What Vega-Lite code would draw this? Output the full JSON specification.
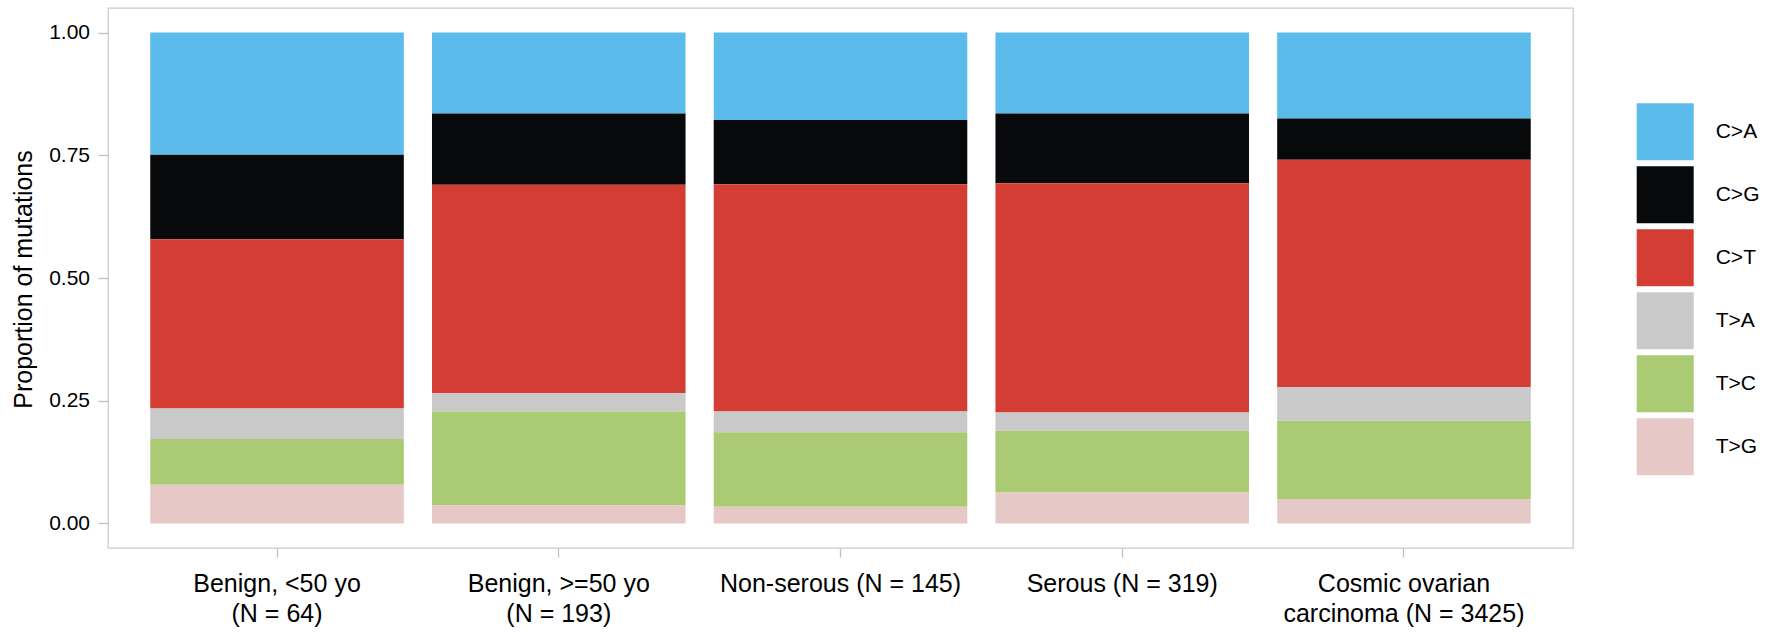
{
  "$schema": "https://vega.github.io/schema/vega-lite/v6.json",
  "autosize": "none",
  "width": 1465,
  "height": 540,
  "padding": {"left": 108, "top": 8, "right": 212, "bottom": 84},
  "background": "white",
  "config": {
    "font": "Liberation Sans, Arial, sans-serif",
    "view": {"stroke": "#cccccc", "strokeWidth": 1.3},
    "axis": {"grid": false, "domain": false, "tickColor": "#bfbfbf", "tickWidth": 1.3, "labelColor": "#000000", "titleColor": "#000000", "labelFont": "Liberation Sans, Arial, sans-serif", "titleFont": "Liberation Sans, Arial, sans-serif"}
  },
  "data": {
    "values": [
      {"group": "Benign, <50 yo\n(N = 64)", "type": "C>A", "proportion": 0.249},
      {"group": "Benign, <50 yo\n(N = 64)", "type": "C>G", "proportion": 0.172},
      {"group": "Benign, <50 yo\n(N = 64)", "type": "C>T", "proportion": 0.345},
      {"group": "Benign, <50 yo\n(N = 64)", "type": "T>A", "proportion": 0.062},
      {"group": "Benign, <50 yo\n(N = 64)", "type": "T>C", "proportion": 0.093},
      {"group": "Benign, <50 yo\n(N = 64)", "type": "T>G", "proportion": 0.079},
      {"group": "Benign, >=50 yo\n(N = 193)", "type": "C>A", "proportion": 0.165},
      {"group": "Benign, >=50 yo\n(N = 193)", "type": "C>G", "proportion": 0.145},
      {"group": "Benign, >=50 yo\n(N = 193)", "type": "C>T", "proportion": 0.425},
      {"group": "Benign, >=50 yo\n(N = 193)", "type": "T>A", "proportion": 0.037},
      {"group": "Benign, >=50 yo\n(N = 193)", "type": "T>C", "proportion": 0.191},
      {"group": "Benign, >=50 yo\n(N = 193)", "type": "T>G", "proportion": 0.037},
      {"group": "Non-serous (N = 145)", "type": "C>A", "proportion": 0.178},
      {"group": "Non-serous (N = 145)", "type": "C>G", "proportion": 0.131},
      {"group": "Non-serous (N = 145)", "type": "C>T", "proportion": 0.463},
      {"group": "Non-serous (N = 145)", "type": "T>A", "proportion": 0.042},
      {"group": "Non-serous (N = 145)", "type": "T>C", "proportion": 0.152},
      {"group": "Non-serous (N = 145)", "type": "T>G", "proportion": 0.034},
      {"group": "Serous (N = 319)", "type": "C>A", "proportion": 0.165},
      {"group": "Serous (N = 319)", "type": "C>G", "proportion": 0.142},
      {"group": "Serous (N = 319)", "type": "C>T", "proportion": 0.467},
      {"group": "Serous (N = 319)", "type": "T>A", "proportion": 0.037},
      {"group": "Serous (N = 319)", "type": "T>C", "proportion": 0.126},
      {"group": "Serous (N = 319)", "type": "T>G", "proportion": 0.063},
      {"group": "Cosmic ovarian\ncarcinoma (N = 3425)", "type": "C>A", "proportion": 0.175},
      {"group": "Cosmic ovarian\ncarcinoma (N = 3425)", "type": "C>G", "proportion": 0.084},
      {"group": "Cosmic ovarian\ncarcinoma (N = 3425)", "type": "C>T", "proportion": 0.463},
      {"group": "Cosmic ovarian\ncarcinoma (N = 3425)", "type": "T>A", "proportion": 0.069},
      {"group": "Cosmic ovarian\ncarcinoma (N = 3425)", "type": "T>C", "proportion": 0.159},
      {"group": "Cosmic ovarian\ncarcinoma (N = 3425)", "type": "T>G", "proportion": 0.050}
    ]
  },
  "mark": {"type": "bar", "strokeWidth": 0},
  "encoding": {
    "x": {
      "field": "group",
      "type": "nominal",
      "sort": null,
      "scale": {"paddingInner": 0.1, "paddingOuter": 0.15},
      "axis": {
        "title": null,
        "labelAngle": 0,
        "labelFontSize": 25,
        "labelLineHeight": 30,
        "labelPadding": 14,
        "labelBaseline": "top",
        "labelLimit": 0,
        "tickSize": 9,
        "labelExpr": "split(datum.label, '\\n')"
      }
    },
    "y": {
      "field": "proportion",
      "type": "quantitative",
      "stack": "zero",
      "scale": {"domain": [-0.05, 1.05], "nice": false, "zero": false},
      "axis": {
        "title": "Proportion of mutations",
        "titleFontSize": 25,
        "titleFontWeight": "normal",
        "titleAngle": -90,
        "titleBaseline": "alphabetic",
        "titleAlign": "center",
        "titleX": -77,
        "titleY": 271,
        "values": [0, 0.25, 0.5, 0.75, 1],
        "format": ".2f",
        "labelFontSize": 21,
        "labelPadding": 8.5,
        "tickSize": 10
      }
    },
    "color": {
      "field": "type",
      "type": "nominal",
      "scale": {
        "domain": ["C>A", "C>G", "C>T", "T>A", "T>C", "T>G"],
        "range": ["#5bbceb", "#08090b", "#d43d33", "#c9c9c9", "#aacb74", "#e6c9c6"]
      },
      "legend": {
        "title": null,
        "orient": "none",
        "legendX": 1528.7,
        "legendY": 95.3,
        "padding": 0,
        "symbolType": "square",
        "symbolSize": 3249,
        "symbolStrokeWidth": 0,
        "symbolOpacity": 1,
        "rowPadding": 6,
        "labelFontSize": 21,
        "labelOffset": 22,
        "labelColor": "#000000",
        "labelFont": "Liberation Sans, Arial, sans-serif"
      }
    },
    "order": {"field": "type", "sort": "descending"}
  }
}
